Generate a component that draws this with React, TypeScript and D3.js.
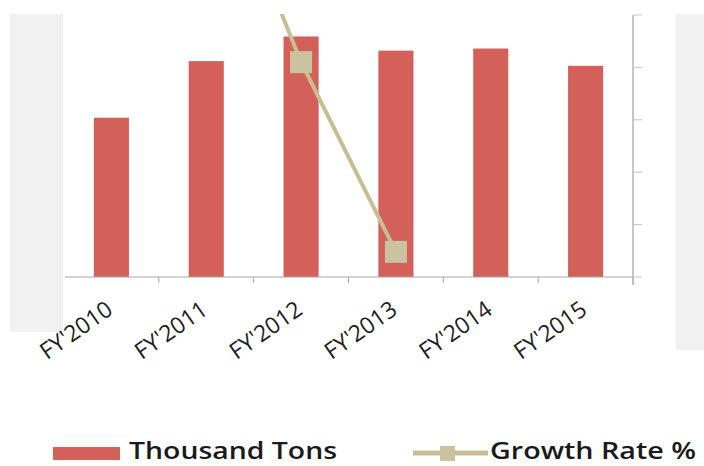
import React from "react";
import * as d3 from "d3";

const categories = ["FY'2010", "FY'2011", "FY'2012", "FY'2013", "FY'2014", "FY'2015"];
const thousandTons = [152, 206, 229.5, 216, 218, 201.5];
const growthRate: (number | null)[] = [null, 33, 10.5, -7.6, null, null];
const rightTicks = [-10, -5, 0, 5, 10, 15];

const W = 704;
const H = 466;
const plotLeft = 64;
const plotRight = 633;
const plotTop = 15;
const plotBottom = 277;

const BAR = "#d4605a";
const LINE = "#c7bf93";
const MARK = "#c9c49f";
const FONT = "'Open Sans', 'DejaVu Sans', sans-serif";

export default function App() {
  const x = d3.scaleBand<string>().domain(categories).range([plotLeft, plotRight]).paddingInner(0.63).paddingOuter(0.315);
  const yL = d3.scaleLinear().domain([0, 250]).range([plotBottom, plotTop]);
  const yR = d3.scaleLinear().domain([-10, 15]).range([plotBottom, plotTop]);

  const pts = categories
    .map((c, i) => ({ c, v: growthRate[i] }))
    .filter((d) => d.v !== null) as { c: string; v: number }[];
  const line = d3
    .line<{ c: string; v: number }>()
    .x((d) => (x(d.c) as number) + x.bandwidth() / 2)
    .y((d) => yR(d.v));

  const step = x.step();
  const boundaries = categories.map((_, i) => plotLeft + step * (i + 1));

  return (
    <svg width={W} height={H} style={{ position: "absolute", left: 0, top: 0, background: "#ffffff" }}>
      <defs>
        <clipPath id="plotclip">
          <rect x={plotLeft} y={plotTop - 1} width={plotRight - plotLeft} height={plotBottom - plotTop + 2} />
        </clipPath>
      </defs>
      {/* gray side panels */}
      <rect x={10} y={14} width={53} height={318} fill="#f1f1f1" />
      <rect x={676} y={14} width={28} height={336} fill="#f1f1f1" />

      {/* bars */}
      {categories.map((c, i) => (
        <rect
          key={c}
          x={x(c)}
          y={yL(thousandTons[i])}
          width={x.bandwidth()}
          height={plotBottom - yL(thousandTons[i])}
          fill={BAR}
        />
      ))}

      {/* x axis */}
      <line x1={plotLeft + 1} x2={plotRight} y1={plotBottom} y2={plotBottom} stroke="#a6a6a6" strokeWidth={1.2} />
      {boundaries.map((bx, i) => (
        <line key={i} x1={bx} x2={bx} y1={plotBottom} y2={plotBottom + 6} stroke="#a6a6a6" strokeWidth={1} />
      ))}

      {/* right axis */}
      <line x1={plotRight} x2={plotRight} y1={plotTop} y2={plotBottom + 8} stroke="#b4b4b4" strokeWidth={1.5} />
      {rightTicks.map((t) => (
        <line key={t} x1={plotRight} x2={plotRight + 9} y1={yR(t)} y2={yR(t)} stroke="#c4c4c4" strokeWidth={1} />
      ))}

      {/* growth line */}
      <g clipPath="url(#plotclip)">
        <path d={line(pts) || ""} fill="none" stroke={LINE} strokeWidth={4} />
        {pts.map((d) => (
          <rect
            key={d.c}
            x={(x(d.c) as number) + x.bandwidth() / 2 - 11}
            y={yR(d.v) - 11}
            width={22}
            height={22}
            fill={MARK}
          />
        ))}
      </g>

      {/* x labels */}
      {categories.map((c) => {
        const cx = (x(c) as number) + x.bandwidth() / 2 + 3;
        const cy = 313;
        return (
          <text
            key={c}
            x={cx}
            y={cy}
            textAnchor="end"
            transform={`rotate(-35, ${cx}, ${cy})`}
            fontFamily={FONT}
            fontSize={23}
            fontWeight={500}
            fill="#1e1e1e"
          >
            {c}
          </text>
        );
      })}

      {/* legend */}
      <rect x={53} y={447} width={67} height={13} fill={BAR} />
      <text x={129} y={459} fontFamily={FONT} fontSize={24} fontWeight={600} fill="#1a1a1a" textLength={208} lengthAdjust="spacingAndGlyphs">
        Thousand Tons
      </text>
      <line x1={413} x2={488} y1={453} y2={453} stroke={LINE} strokeWidth={5} />
      <rect x={440} y={446} width={15} height={15} fill={MARK} />
      <text x={490} y={459} fontFamily={FONT} fontSize={24} fontWeight={600} fill="#1a1a1a" textLength={206} lengthAdjust="spacingAndGlyphs">
        Growth Rate %
      </text>
    </svg>
  );
}
